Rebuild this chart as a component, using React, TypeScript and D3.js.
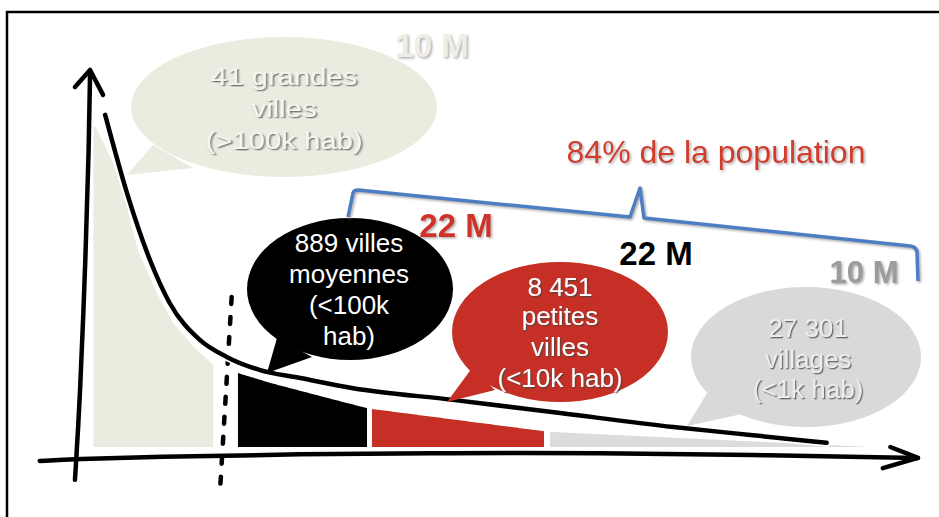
import * as d3 from "d3";

// communes by size class
const categories = ["grandes villes", "villes moyennes", "petites villes", "villages"];
const communeCounts = [41, 889, 8451, 27301];
const populationM = [10, 22, 22, 10];
const thresholds = [">100k", "<100k", "<10k", "<1k"];

// hand-drawn distribution curve (x: rank, y: size, both 0..100)
const curveX = [3.0, 5.6, 8.35, 10.7, 14.3, 17.5, 21.5, 26.3, 32.6, 44.5, 57.3, 70.8, 80.0, 89.1];
const curveY = [88.1, 67.4, 49.6, 38.2, 28.4, 23.9, 20.4, 18.3, 15.6, 12.5, 9.0, 5.3, 3.2, 1.1];

// shading under the curve
const shadeX = [1.9, 3.8, 5.4, 6.9, 9.0, 11.1, 13.7, 15.9, 18.85, 22.7, 26.3, 30.4, 34.25, 34.84, 55.37, 56.09, 94.3];
const shadeY = [84.9, 76.1, 65.5, 52.3, 41.6, 32.9, 26.3, 21.8, 19.6, 17.0, 14.9, 12.5, 10.3, 10.1, 4.2, 4.0, 0];
const segStart = [1.6, 18.85, 34.84, 56.09];
const segEnd = [15.9, 34.25, 55.37, 94.3];

// hand-drawn axes
const yAxisX = [-0.6, 0, 0.7, 1.05, 1.2];
const yAxisY = [-8.7, 12.5, 52.3, 78.8, 99.5];
const xAxisX = [-4.8, -0.6, 8.35, 26.25, 44.15, 62.05, 79.95, 100];
const xAxisY = [-3.7, -3.2, -2.65, -1.86, -1.6, -1.6, -2.1, -2.9];
const divider = [[18.1, 39.8], [16.7, -11.9]];

const fills = ["#ecebe0", "#000000", "#c62f25", "#dcdcdc"];
const bubbleFills = ["#ecebe0", "#000000", "#c62f25", "#d9d9d9"];
const labelFills = ["#efede4", "#d0322a", "#000000", "#9c9c9c"];

const fmt = d3.formatLocale({ decimal: ",", thousands: " ", grouping: [3], currency: ["", "€"] }).format(",d");

const bubbleLines = [
  [`${fmt(communeCounts[0])} grandes`, "villes", `(${thresholds[0]} hab)`],
  [`${fmt(communeCounts[1])} villes`, "moyennes", `(${thresholds[1]}`, "hab)"],
  [fmt(communeCounts[2]), "petites", "villes", `(${thresholds[2]} hab)`],
  [fmt(communeCounts[3]), "villages", `(${thresholds[3]} hab)`],
];

// bubble layout (px)
const bubbles = [
  { cx: 284, cy: 107, rx: 153, ry: 70, tail: [[153, 145], [127, 175], [193, 168]], lines: [85, 117, 149], tx: 284, sx: 1.22, txt: "#f6f5f0", shadow: true },
  { cx: 350, cy: 289, rx: 103, ry: 71, tail: [[277, 338], [267, 373], [312, 357]], lines: [252, 283, 314, 345], tx: 349, sx: 1, txt: "#ffffff", shadow: false },
  { cx: 560, cy: 332, rx: 108, ry: 70, tail: [[472, 368], [447, 402], [495, 390]], lines: [296, 325, 356, 387], tx: 560, sx: 1, txt: "#ffffff", shadow: true },
  { cx: 806, cy: 357, rx: 115, ry: 70, tail: [[712, 385], [687, 426], [742, 414]], lines: [337, 368, 398], tx: 808, sx: 1, txt: "#ececec", shadow: true },
];
const labelPos = [[432, 57], [456, 237], [656, 265], [864, 283]];

const FONT = "'Liberation Sans', Arial, sans-serif";

export default function App() {
  const x = d3.scaleLinear().domain([0, 100]).range([80, 918]);
  const y = d3.scaleLinear().domain([0, 100]).range([447, 70]);
  const shade = d3.scaleLinear().domain(shadeX).range(shadeY).clamp(true);

  const curvePath = d3.line<number>().x((d) => x(curveX[d])).y((d) => y(curveY[d])).curve(d3.curveMonotoneX)(d3.range(curveX.length));
  const areaGen = d3.area<number>().x((d) => x(d)).y0(y(0)).y1((d) => y(shade(d))).curve(d3.curveMonotoneX);
  const segPaths = categories.map((_, i) => {
    const xs = d3.range(segStart[i], segEnd[i], 0.25).concat([segEnd[i]]);
    return areaGen(xs);
  });
  const yAxisPath = d3.line<number>().x((d) => x(yAxisX[d])).y((d) => y(yAxisY[d])).curve(d3.curveBasis)(d3.range(yAxisX.length));
  const xAxisPath = d3.line<number>().x((d) => x(xAxisX[d])).y((d) => y(xAxisY[d])).curve(d3.curveBasis)(d3.range(xAxisX.length));
  const arrowUp = d3.line()([[x(-0.6), y(95.5)], [x(1.2), y(100)], [x(2.75), y(93.4)]]);
  const arrowRight = d3.line()([[x(96.7), y(0)], [x(100), y(-2.9)], [x(95.8), y(-5.6)]]);

  const total = d3.sum(populationM);
  const share = d3.format(".0%")(d3.sum(populationM.slice(1)) / total);

  return (
    <div style={{ position: "fixed", left: 0, top: 0 }}>
      <svg width={939} height={517} style={{ display: "block", background: "#fff" }}>
        <defs>
          <filter id="sh" x="-20%" y="-20%" width="140%" height="140%">
            <feDropShadow dx="1.3" dy="1.3" stdDeviation="0.7" floodColor="#444" floodOpacity="0.75" />
          </filter>
          <filter id="shl" x="-20%" y="-20%" width="140%" height="140%">
            <feDropShadow dx="1.5" dy="1.5" stdDeviation="0.8" floodColor="#999" floodOpacity="0.8" />
          </filter>
        </defs>
        <rect x={7} y={12} width={1000} height={600} fill="none" stroke="#000" strokeWidth={2.5} />

        {segPaths.map((p, i) => (
          <path key={categories[i]} d={p ?? ""} fill={fills[i]} />
        ))}

        <line x1={x(divider[0][0])} y1={y(divider[0][1])} x2={x(divider[1][0])} y2={y(divider[1][1])}
          stroke="#000" strokeWidth={4.5} strokeDasharray="7 13" strokeLinecap="round" />

        <path d={yAxisPath ?? ""} fill="none" stroke="#000" strokeWidth={4.5} strokeLinecap="round" />
        <path d={arrowUp ?? ""} fill="none" stroke="#000" strokeWidth={4.5} strokeLinecap="round" strokeLinejoin="round" />
        <path d={xAxisPath ?? ""} fill="none" stroke="#000" strokeWidth={4.5} strokeLinecap="round" />
        <path d={arrowRight ?? ""} fill="none" stroke="#000" strokeWidth={4.5} strokeLinecap="round" strokeLinejoin="round" />

        <path d={curvePath ?? ""} fill="none" stroke="#fff" strokeWidth={8} strokeLinecap="round" />
        <path d={curvePath ?? ""} fill="none" stroke="#000" strokeWidth={4.5} strokeLinecap="round" />

        {bubbles.map((b, i) => (
          <g key={i}>
            <ellipse cx={b.cx} cy={b.cy} rx={b.rx} ry={b.ry} fill={bubbleFills[i]} />
            <polygon points={b.tail.map((p) => p.join(",")).join(" ")} fill={bubbleFills[i]} />
            {bubbleLines[i].map((t, j) => (
              <text key={j} transform={`translate(${b.tx},${b.lines[j]}) scale(${b.sx},1)`} textAnchor="middle"
                fontFamily={FONT} fontSize={i === 0 ? 24 : 26} fill={b.txt} filter={b.shadow ? "url(#sh)" : undefined}>
                {t}
              </text>
            ))}
          </g>
        ))}

        {populationM.map((v, i) => (
          <text key={i} x={labelPos[i][0]} y={labelPos[i][1]} textAnchor="middle" fontFamily={FONT} fontWeight="bold"
            fontSize={i === 3 ? 31 : 33} fill={labelFills[i]} filter={i === 2 ? undefined : "url(#shl)"}>
            {`${v} M`}
          </text>
        ))}

        <path d="M348,217 L353,193 Q354,190 358,190 L630,217 L640,188 L644,218 L910,246 Q917,247 917,253 L918,281"
          fill="none" stroke="#4e7ec4" strokeWidth={3.5} strokeLinejoin="round" filter="url(#shl)" />

        <text x={716} y={163} textAnchor="middle" fontFamily={FONT} fontSize={32} fill="#d33a2c" filter="url(#shl)">
          {`${share} de la population`}
        </text>
      </svg>
    </div>
  );
}
